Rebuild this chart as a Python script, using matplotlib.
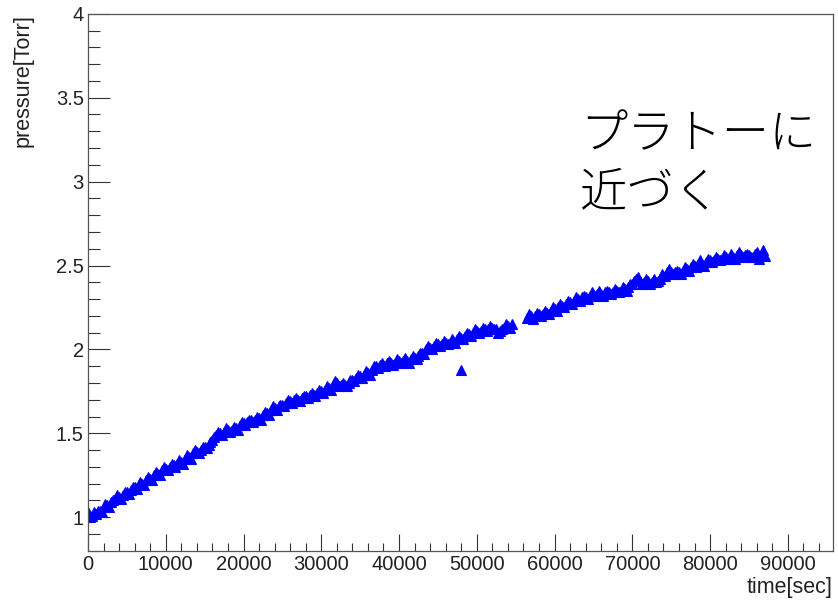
import numpy as np
import matplotlib
matplotlib.use("Agg")
import matplotlib.pyplot as plt
from matplotlib.ticker import MultipleLocator

# pressure readings, two interleaved sets every 500 s
t_a1 = np.arange(0, 54501, 500)
p_a1 = [
    1.03, 1.01, 1.02, 1.04, 1.06, 1.07, 1.09, 1.11, 1.12, 1.13,
    1.15, 1.16, 1.18, 1.19, 1.20, 1.22, 1.23, 1.25, 1.26, 1.28,
    1.29, 1.30, 1.31, 1.32, 1.33, 1.35, 1.36, 1.38, 1.39, 1.40,
    1.42, 1.43, 1.46, 1.49, 1.50, 1.51, 1.52, 1.52, 1.53, 1.55,
    1.56, 1.57, 1.58, 1.58, 1.59, 1.61, 1.62, 1.64, 1.65, 1.66,
    1.67, 1.68, 1.69, 1.70, 1.70, 1.71, 1.72, 1.73, 1.73, 1.74,
    1.75, 1.76, 1.77, 1.79, 1.80, 1.79, 1.79, 1.80, 1.82, 1.83,
    1.84, 1.85, 1.86, 1.88, 1.90, 1.91, 1.91, 1.92, 1.92, 1.92,
    1.93, 1.93, 1.93, 1.94, 1.95, 1.96, 1.98, 2.00, 2.01, 2.02,
    2.03, 2.03, 2.04, 2.04, 2.05, 2.06, 2.07, 2.08, 2.09, 2.10,
    2.11, 2.11, 2.12, 2.12, 2.13, 2.12, 2.11, 2.13, 2.14, 2.15,
]
t_b1 = np.arange(250, 54251, 500)
p_b1 = [
    1.00, 1.03, 1.04, 1.03, 1.08, 1.06, 1.10, 1.13, 1.11, 1.15,
    1.14, 1.18, 1.17, 1.21, 1.19, 1.24, 1.22, 1.27, 1.25, 1.30,
    1.28, 1.32, 1.30, 1.34, 1.32, 1.37, 1.35, 1.40, 1.38, 1.42,
    1.41, 1.45, 1.48, 1.51, 1.49, 1.53, 1.51, 1.54, 1.52, 1.57,
    1.55, 1.58, 1.57, 1.60, 1.58, 1.63, 1.61, 1.66, 1.64, 1.67,
    1.66, 1.70, 1.68, 1.71, 1.69, 1.72, 1.71, 1.74, 1.72, 1.76,
    1.74, 1.78, 1.76, 1.81, 1.78, 1.80, 1.78, 1.82, 1.81, 1.85,
    1.83, 1.87, 1.85, 1.90, 1.89, 1.92, 1.90, 1.93, 1.91, 1.94,
    1.92, 1.95, 1.92, 1.96, 1.94, 1.98, 1.97, 2.02, 2.00, 2.04,
    2.02, 2.05, 2.03, 2.06, 2.04, 2.08, 2.06, 2.10, 2.08, 2.12,
    2.10, 2.13, 2.11, 2.14, 2.12, 2.10, 2.12, 2.15, 2.13,
]
t_a2 = np.arange(56500, 87001, 500)
p_a2 = [
    2.19, 2.20, 2.20, 2.21, 2.21, 2.22, 2.23,
    2.24, 2.25, 2.26, 2.27, 2.28, 2.29, 2.30, 2.31, 2.31, 2.32,
    2.33, 2.33, 2.33, 2.34, 2.34, 2.34, 2.35, 2.35, 2.36, 2.37,
    2.39, 2.42, 2.41, 2.40, 2.41, 2.40, 2.40, 2.42, 2.44, 2.46,
    2.46, 2.46, 2.46, 2.47, 2.48, 2.49, 2.50, 2.51, 2.51, 2.52,
    2.53, 2.53, 2.54, 2.54, 2.55, 2.55, 2.55, 2.56, 2.56, 2.56,
    2.565, 2.55, 2.58, 2.56, 2.555,
]
t_b2 = np.arange(56750, 86751, 500)
p_b2 = [
    2.21, 2.18, 2.22, 2.20, 2.23, 2.21, 2.25,
    2.23, 2.27, 2.25, 2.29, 2.27, 2.31, 2.29, 2.32, 2.30, 2.34,
    2.32, 2.35, 2.32, 2.35, 2.33, 2.36, 2.34, 2.37, 2.35, 2.39,
    2.41, 2.43, 2.39, 2.42, 2.39, 2.42, 2.41, 2.45, 2.44, 2.48,
    2.45, 2.47, 2.45, 2.49, 2.47, 2.51, 2.49, 2.53, 2.50, 2.54,
    2.52, 2.55, 2.53, 2.56, 2.54, 2.57, 2.54, 2.58, 2.55, 2.57,
    2.55, 2.57, 2.54, 2.59,
]
# single outlier
t_out = [48000]
p_out = [1.88]

time = np.concatenate([t_a1, t_b1, t_a2, t_b2, t_out])
pressure = np.concatenate([p_a1, p_b1, p_a2, p_b2, p_out])

fig = plt.figure(figsize=(8.38, 6), dpi=100)
ax = fig.add_axes([0.105, 0.082, 0.889, 0.895])

ax.plot(time, pressure, linestyle="none", marker="^", markersize=6.5,
        color="#0000ff", markeredgewidth=0.8)

ax.set_xlim(0, 95800)
ax.set_ylim(0.8, 4.0)

ax.xaxis.set_major_locator(MultipleLocator(10000))
ax.xaxis.set_minor_locator(MultipleLocator(2000))
ax.yaxis.set_major_locator(MultipleLocator(0.5))
ax.yaxis.set_minor_locator(MultipleLocator(0.1))

ax.tick_params(axis="both", which="both", direction="in", color="#333333",
               width=0.8, labelsize=14.5, labelcolor="#222222")
ax.tick_params(axis="x", which="major", length=12, pad=3)
ax.tick_params(axis="x", which="minor", length=6)
ax.tick_params(axis="y", which="major", length=16, pad=3)
ax.tick_params(axis="y", which="minor", length=8.5)
ax.tick_params(top=False, right=False)

for lab in ax.get_xticklabels() + ax.get_yticklabels():
    lab.set_family("Liberation Sans")

ax.yaxis.set_major_formatter(plt.FuncFormatter(lambda v, p: f"{v:g}"))
ax.xaxis.set_major_formatter(plt.FuncFormatter(lambda v, p: f"{v:.0f}"))

for s in ax.spines.values():
    s.set_color("#555555")
    s.set_linewidth(0.9)

fig.text(0.994, 0.003, "time[sec]", ha="right", va="bottom", fontsize=15.5,
         family="Liberation Sans", color="#222222")
fig.text(0.015, 0.977, "pressure[Torr]", ha="left", va="top", rotation=90,
         fontsize=15.5, family="Liberation Sans", color="#222222")

fig.text(0.692, 0.775, "プラトーに", ha="left", va="center", fontsize=34,
         family=["Noto Sans CJK JP", "DejaVu Sans"], fontweight="light")
fig.text(0.692, 0.678, "近づく", ha="left", va="center", fontsize=34,
         family=["Noto Sans CJK JP", "DejaVu Sans"], fontweight="light")

fig.savefig("out.png", dpi=100)
